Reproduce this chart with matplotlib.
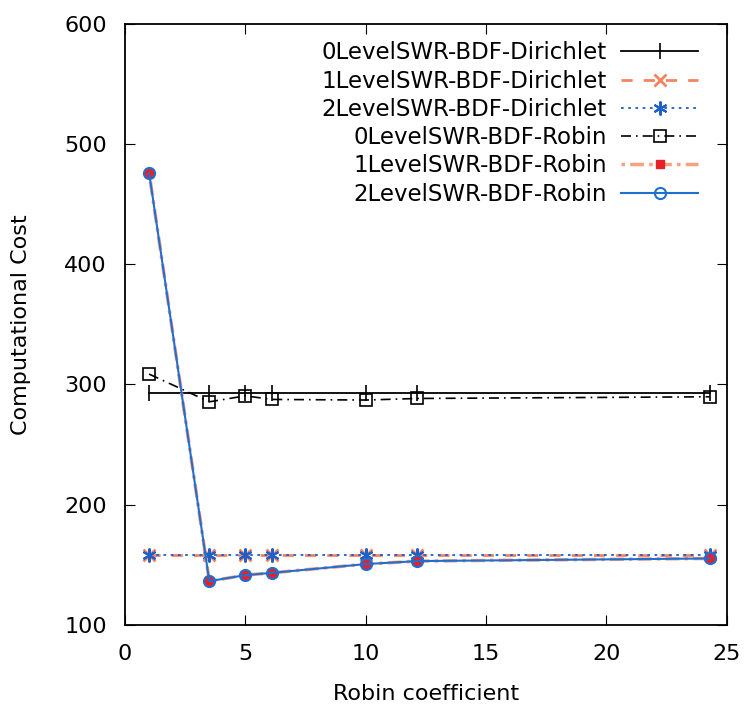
import matplotlib
matplotlib.use('Agg')
import matplotlib.pyplot as plt

plt.rcParams.update({
    'font.family': 'DejaVu Sans',
    'font.size': 15,
    'xtick.direction': 'in',
    'ytick.direction': 'in',
    'xtick.top': True,
    'ytick.right': True,
    'xtick.major.size': 7,
    'ytick.major.size': 7,
    'axes.linewidth': 1.3,
})

robin = [1, 3.5, 5, 6.1, 10, 12.15, 24.3]
dir0 = [293, 293, 293, 293, 293, 293, 293]
dir1 = [158, 158, 158, 158, 158, 158, 158]
dir2 = [158, 158, 158, 158, 158, 158, 158]
rob0 = [308.6, 285.5, 290.5, 287.5, 287, 288.3, 289.7]
rob1 = [476, 136.2, 141.2, 143.1, 150.4, 152.9, 155.1]
rob2 = [476, 136.2, 141.2, 143.1, 150.4, 152.9, 155.1]
labels = ['0LevelSWR-BDF-Dirichlet', '1LevelSWR-BDF-Dirichlet', '2LevelSWR-BDF-Dirichlet',
          '0LevelSWR-BDF-Robin', '1LevelSWR-BDF-Robin', '2LevelSWR-BDF-Robin']

fig = plt.figure(figsize=(7.49, 7.09), dpi=100)
ax = fig.add_axes([0.167, 0.119, 0.803, 0.847])

ax.plot(robin, dir0, color='k', lw=1.3, marker='|', ms=12, mew=1.2, label=labels[0])
ax.plot(robin, dir1, color='#f4845f', lw=2, ls=(0, (4, 4)), marker='x', ms=8, mew=2, label=labels[1])
ax.plot(robin, dir2, color='#1f5fc8', lw=1.3, ls=(0, (1.5, 2.5)), marker=(6, 2, 0), ms=10, mew=1.5, label=labels[2])
ax.plot(robin, rob0, color='k', lw=1.2, ls=(0, (6, 3, 1, 3)), marker='s', ms=9, mfc='none', mew=1.2, label=labels[3])
ax.plot(robin, rob1, color='#f8a080', lw=2.5, ls=(0, (1, 1.5, 4, 1.5)), marker='s', ms=6,
        mfc='#e8202a', mec='#e8202a', label=labels[4])
ax.plot(robin, rob2, color='#1f6fd0', lw=1.5, marker='o', ms=8, mfc='none', mew=1.5, label=labels[5])

ax.set_xlim(0, 25)
ax.set_ylim(100, 600)
ax.set_xticks([0, 5, 10, 15, 20, 25])
ax.set_yticks([100, 200, 300, 400, 500, 600])
ax.tick_params(axis='x', pad=14, labelsize=16)
ax.tick_params(axis='y', pad=13, labelsize=16)
ax.set_xlabel('Robin coefficient', fontsize=16, labelpad=14)
ax.set_ylabel('Computational Cost', fontsize=16, labelpad=24)

leg = ax.legend(loc='upper right', bbox_to_anchor=(0.98, 0.998), frameon=False, markerfirst=False,
                handlelength=3.4, handletextpad=0.6, labelspacing=0.23, fontsize=16.5, borderaxespad=0.3)

fig.savefig('out.png', dpi=100)
